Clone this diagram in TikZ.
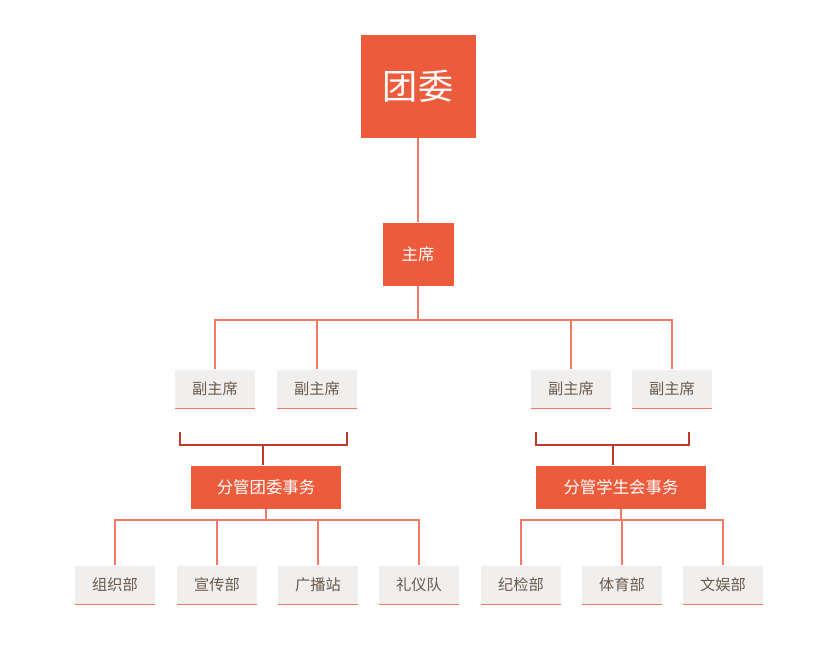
\documentclass[tikz,border=0pt]{standalone}
\usepackage{fontspec}
\newfontfamily\cjk{Noto Sans CJK SC}
\definecolor{orgfill}{HTML}{EC5B3C}
\definecolor{linkred}{HTML}{F07A66}
\definecolor{brkred}{HTML}{C0392B}
\definecolor{greybox}{HTML}{F0EFEE}
\definecolor{greytxt}{HTML}{6B5A4A}
\begin{document}
\begin{tikzpicture}[x=0.03cm, y=-0.03cm, link/.style={draw=linkred, line width=1.2pt},
bracket/.style={draw=brkred, line width=1.3pt},
head node/.style={fill=orgfill, text=white, font=\cjk, inner sep=0pt},
sub node/.style={fill=greybox, text=greytxt, font=\cjk\fontsize{13}{15}\selectfont, minimum width=2.4cm, minimum height=1.17cm, inner sep=0pt, path picture={\draw[linkred, line width=1pt] (path picture bounding box.south west) -- (path picture bounding box.south east);}}]
\useasboundingbox (0,0) rectangle (831,659);
\begin{scope}
\node[head node, minimum width=3.45cm, minimum height=3.09cm, font=\cjk\fontsize{30}{34}\selectfont] (tw) at (418,86) {团委};
\node[head node, minimum width=2.13cm, minimum height=1.89cm, font=\cjk\fontsize{14}{16}\selectfont] (zx) at (418,254) {主席};
\node[sub node] (f1) at (215,389) {副主席};
\node[sub node] (f2) at (317,389) {副主席};
\node[sub node] (f3) at (571,389) {副主席};
\node[sub node] (f4) at (672,389) {副主席};
\node[head node, minimum width=4.47cm, minimum height=1.29cm, font=\cjk\fontsize{14}{16}\selectfont] (tz) at (266,487) {分管团委事务};
\node[head node, minimum width=5.1cm, minimum height=1.29cm, font=\cjk\fontsize{14}{16}\selectfont] (xs) at (621,487) {分管学生会事务};
\node[sub node] (b1) at (115,585) {组织部};
\node[sub node] (b2) at (217,585) {宣传部};
\node[sub node] (b3) at (318,585) {广播站};
\node[sub node] (b4) at (419,585) {礼仪队};
\node[sub node] (b5) at (521,585) {纪检部};
\node[sub node] (b6) at (622,585) {体育部};
\node[sub node] (b7) at (723,585) {文娱部};
\end{scope}
\begin{scope}
\draw[link] (tw) -- (zx);
\draw[link] (zx.south) -- (418,320);
\draw[link] (f1.north) |- (f4.north |- 0,320) -- (f4.north);
\draw[link] (f2.north) -- (f2.north |- 0,320);
\draw[link] (f3.north) -- (f3.north |- 0,320);
\draw[bracket] (180,432) |- (347,445) -- (347,432);
\draw[bracket] (263,445) -- (tz.north -| 263,0);
\draw[bracket] (536,432) |- (689,445) -- (689,432);
\draw[bracket] (613,445) -- (xs.north -| 613,0);
\draw[link] (b1.north) |- (b4.north |- 0,520) -- (b4.north);
\draw[link] (tz.south) -- (tz.south |- 0,520);
\draw[link] (b2.north) -- (b2.north |- 0,520);
\draw[link] (b3.north) -- (b3.north |- 0,520);
\draw[link] (b5.north) |- (b7.north |- 0,520) -- (b7.north);
\draw[link] (xs.south) -- (xs.south |- 0,520);
\draw[link] (b6.north) -- (b6.north |- 0,520);
\end{scope}
\end{tikzpicture}
\end{document}
